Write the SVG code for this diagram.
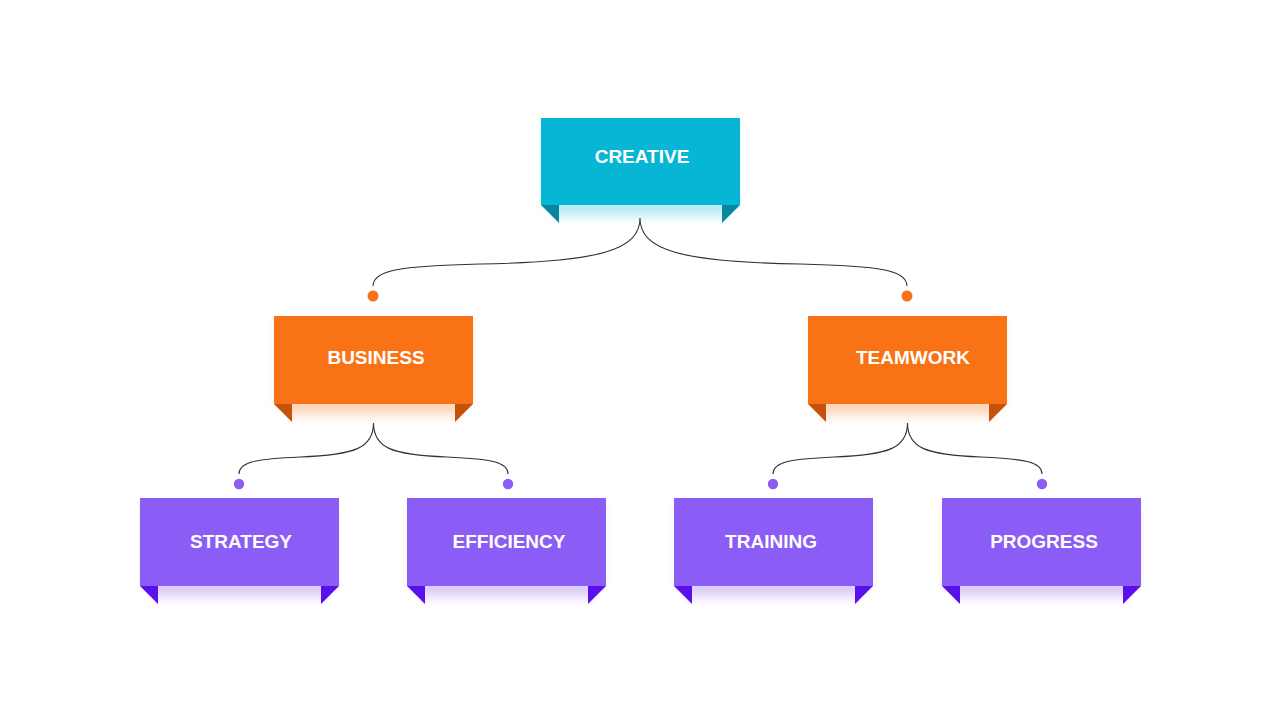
<svg xmlns="http://www.w3.org/2000/svg" width="1280" height="720" viewBox="0 0 1280 720">
<defs>
<style>
.lbl{font-family:"Liberation Sans",Arial,sans-serif;font-weight:bold;font-size:19px;fill:#ffffff;text-anchor:middle}
.cn{fill:none;stroke:#2f3337;stroke-width:1.1}
.c-cy{fill:#07B6D5}
.d-cy{fill:#0A87A0}
.c-or{fill:#F97316}
.d-or{fill:#C4520B}
.c-pu{fill:#8B5CF6}
.d-pu{fill:#5A10EC}
</style>
<filter id="sh" x="-20%" y="-30%" width="140%" height="160%">
<feGaussianBlur stdDeviation="4"/>
</filter>
<filter id="gb" x="-20%" y="-50%" width="140%" height="200%">
<feGaussianBlur stdDeviation="2.5"/>
</filter>
<linearGradient id="g-cy" x1="0" y1="0" x2="0" y2="1">
<stop offset="0" stop-color="#A8E6F2"/>
<stop offset="1" stop-color="#A8E6F2" stop-opacity="0"/>
</linearGradient>
<linearGradient id="g-or" x1="0" y1="0" x2="0" y2="1">
<stop offset="0" stop-color="#FDCBA8"/>
<stop offset="1" stop-color="#FDCBA8" stop-opacity="0"/>
</linearGradient>
<linearGradient id="g-pu" x1="0" y1="0" x2="0" y2="1">
<stop offset="0" stop-color="#D2C2FB"/>
<stop offset="1" stop-color="#D2C2FB" stop-opacity="0"/>
</linearGradient>
</defs>
<rect width="1280" height="720" fill="#ffffff"/>

<g id="connectors">
<path class="cn" d="M640,218 C640,250 600,262 480,264 C400,266 373,270 373,286"/>
<path class="cn" d="M640,218 C640,250 680,262 800,264 C880,266 907,270 907,286"/>
<path class="cn" d="M373.5,423 C373.5,448 355,455 300,457 C255,459 239,462 239,474"/>
<path class="cn" d="M373.5,423 C373.5,448 392,455 447,457 C492,459 508,462 508,474"/>
<path class="cn" d="M907.5,423 C907.5,448 889,455 834,457 C789,459 773,462 773,474"/>
<path class="cn" d="M907.5,423 C907.5,448 926,455 981,457 C1026,459 1042,462 1042,474"/>
<circle cx="373" cy="296" r="5.5" class="c-or"/>
<circle cx="907" cy="296" r="5.5" class="c-or"/>
<circle cx="239" cy="484" r="5.2" class="c-pu"/>
<circle cx="508" cy="484" r="5.2" class="c-pu"/>
<circle cx="773" cy="484" r="5.2" class="c-pu"/>
<circle cx="1042" cy="484" r="5.2" class="c-pu"/>
</g>

<g id="node-creative">
<rect x="543" y="122" width="195" height="85" fill="#07B6D5" opacity="0.18" filter="url(#sh)"/>
<rect x="553" y="204" width="175" height="20" fill="url(#g-cy)" filter="url(#gb)"/>
<rect x="541" y="118" width="199" height="87" class="c-cy"/>
<polygon points="541,205 559,205 559,223" class="d-cy"/>
<polygon points="740,205 722,205 722,223" class="d-cy"/>
<text x="642" y="163" class="lbl">CREATIVE</text>
</g>

<g id="node-business">
<rect x="276" y="320" width="195" height="86" fill="#F97316" opacity="0.18" filter="url(#sh)"/>
<rect x="286" y="403" width="175" height="20" fill="url(#g-or)" filter="url(#gb)"/>
<rect x="274" y="316" width="199" height="88" class="c-or"/>
<polygon points="274,404 292,404 292,422" class="d-or"/>
<polygon points="473,404 455,404 455,422" class="d-or"/>
<text x="376" y="364" class="lbl">BUSINESS</text>
</g>

<g id="node-teamwork">
<rect x="810" y="320" width="195" height="86" fill="#F97316" opacity="0.18" filter="url(#sh)"/>
<rect x="820" y="403" width="175" height="20" fill="url(#g-or)" filter="url(#gb)"/>
<rect x="808" y="316" width="199" height="88" class="c-or"/>
<polygon points="808,404 826,404 826,422" class="d-or"/>
<polygon points="1007,404 989,404 989,422" class="d-or"/>
<text x="913" y="364" class="lbl">TEAMWORK</text>
</g>

<g id="node-strategy">
<rect x="142" y="502" width="195" height="86" fill="#8B5CF6" opacity="0.16" filter="url(#sh)"/>
<rect x="152" y="585" width="175" height="20" fill="url(#g-pu)" filter="url(#gb)"/>
<rect x="140" y="498" width="199" height="88" class="c-pu"/>
<polygon points="140,586 158,586 158,604" class="d-pu"/>
<polygon points="339,586 321,586 321,604" class="d-pu"/>
<text x="241" y="548" class="lbl">STRATEGY</text>
</g>

<g id="node-efficiency">
<rect x="409" y="502" width="195" height="86" fill="#8B5CF6" opacity="0.16" filter="url(#sh)"/>
<rect x="419" y="585" width="175" height="20" fill="url(#g-pu)" filter="url(#gb)"/>
<rect x="407" y="498" width="199" height="88" class="c-pu"/>
<polygon points="407,586 425,586 425,604" class="d-pu"/>
<polygon points="606,586 588,586 588,604" class="d-pu"/>
<text x="509" y="548" class="lbl">EFFICIENCY</text>
</g>

<g id="node-training">
<rect x="676" y="502" width="195" height="86" fill="#8B5CF6" opacity="0.16" filter="url(#sh)"/>
<rect x="686" y="585" width="175" height="20" fill="url(#g-pu)" filter="url(#gb)"/>
<rect x="674" y="498" width="199" height="88" class="c-pu"/>
<polygon points="674,586 692,586 692,604" class="d-pu"/>
<polygon points="873,586 855,586 855,604" class="d-pu"/>
<text x="771" y="548" class="lbl">TRAINING</text>
</g>

<g id="node-progress">
<rect x="944" y="502" width="195" height="86" fill="#8B5CF6" opacity="0.16" filter="url(#sh)"/>
<rect x="954" y="585" width="175" height="20" fill="url(#g-pu)" filter="url(#gb)"/>
<rect x="942" y="498" width="199" height="88" class="c-pu"/>
<polygon points="942,586 960,586 960,604" class="d-pu"/>
<polygon points="1141,586 1123,586 1123,604" class="d-pu"/>
<text x="1044" y="548" class="lbl">PROGRESS</text>
</g>
</svg>
